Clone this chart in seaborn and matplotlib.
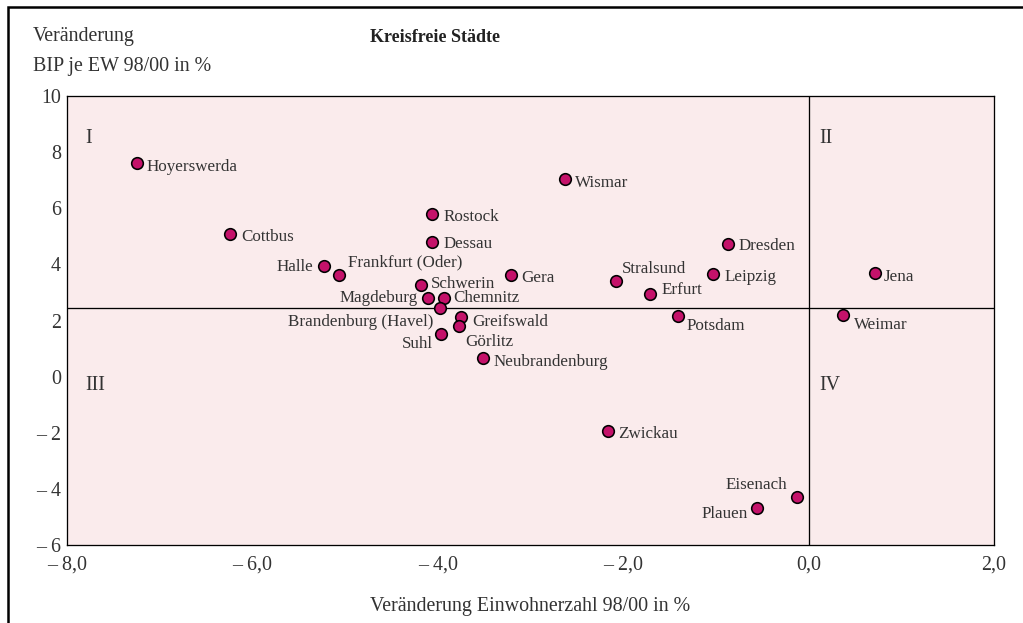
"""
Kreisfreie Städte: change in GDP per inhabitant vs. change in population 98/00.
Quadrant scatter with city labels, drawn with seaborn.
"""
import pandas as pd
import matplotlib
matplotlib.use("Agg")
import matplotlib.pyplot as plt
import seaborn as sns
from matplotlib.patches import Rectangle

# --- data ---
cities = ["Hoyerswerda", "Cottbus", "Halle", "Frankfurt (Oder)", "Rostock", "Dessau",
          "Schwerin", "Magdeburg", "Chemnitz", "Brandenburg (Havel)", "Greifswald",
          "Görlitz", "Suhl", "Neubrandenburg", "Gera", "Wismar", "Stralsund", "Erfurt",
          "Potsdam", "Leipzig", "Dresden", "Jena", "Weimar", "Zwickau", "Eisenach", "Plauen"]
pop_change = [-7.24, -6.24, -5.23, -5.07, -4.06, -4.06,
              -4.18, -4.11, -3.93, -3.98, -3.75,
              -3.77, -3.97, -3.51, -3.21, -2.63, -2.08, -1.71,
              -1.41, -1.03, -0.87, 0.72, 0.37, -2.16, -0.13, -0.56]
gdp_change = [7.60, 5.10, 3.93, 3.63, 5.81, 4.80,
              3.27, 2.80, 2.80, 2.44, 2.12,
              1.79, 1.52, 0.65, 3.63, 7.04, 3.40, 2.93,
              2.15, 3.67, 4.71, 3.69, 2.21, -1.93, -4.29, -4.69]

x_ticks = [-8, -6, -4, -2, 0, 2]
x_tick_labels = ["– 8,0", "– 6,0", "– 4,0", "– 2,0", "0,0", "2,0"]
y_ticks = [-6, -4, -2, 0, 2, 4, 6, 8, 10]
y_tick_labels = ["– 6", "– 4", "– 2", "0", "2", "4", "6", "8", "10"]

# reference lines (mean GDP change, zero population change)
gdp_ref = 2.45
pop_ref = 0.0

# label placement: (dx, dy) in points, horizontal alignment
label_pos = {
    "Hoyerswerda": (9, -4, "left"), "Cottbus": (11, -3, "left"),
    "Halle": (-10, -1, "right"), "Frankfurt (Oder)": (9, 12, "left"),
    "Rostock": (11, -3, "left"), "Dessau": (11, -2, "left"),
    "Schwerin": (10, 1, "left"), "Magdeburg": (-10, 0, "right"),
    "Chemnitz": (9, 0, "left"), "Brandenburg (Havel)": (-6, -14, "right"),
    "Greifswald": (11, -5, "left"), "Görlitz": (6, -16, "left"),
    "Suhl": (-8, -10, "right"), "Neubrandenburg": (10, -4, "left"),
    "Gera": (10, -3, "left"), "Wismar": (10, -4, "left"),
    "Stralsund": (6, 12, "left"), "Erfurt": (11, 4, "left"),
    "Potsdam": (9, -10, "left"), "Leipzig": (11, -3, "left"),
    "Dresden": (11, -2, "left"), "Jena": (8, -4, "left"),
    "Weimar": (11, -10, "left"), "Zwickau": (10, -3, "left"),
    "Eisenach": (-9, 12, "right"), "Plauen": (-9, -6, "right"),
}

df = pd.DataFrame({"city": cities, "pop": pop_change, "gdp": gdp_change})

sns.set_style("white")
plt.rcParams["font.family"] = ["Liberation Serif", "DejaVu Serif"]
text_col = "#333333"

fig = plt.figure(figsize=(1023 / 72, 623 / 72), dpi=72)
ax = fig.add_axes([67 / 1023, 1 - 545 / 623, 927 / 1023, 449 / 623])
ax.set_facecolor("#FAEBEC")

sns.scatterplot(data=df, x="pop", y="gdp", ax=ax, s=135, color="#C4126A",
                edgecolor="black", linewidth=1.6, zorder=3)

ax.axhline(gdp_ref, color="black", lw=1.3, zorder=2)
ax.axvline(pop_ref, color="black", lw=1.3, zorder=2)

for _, row in df.iterrows():
    dx, dy, ha = label_pos[row["city"]]
    ax.annotate(row["city"], (row["pop"], row["gdp"]), xytext=(dx, dy),
                textcoords="offset points", ha=ha, va="center",
                fontsize=17, color=text_col, zorder=4)

# quadrant numbers
for txt, x, y in [("I", -7.8, 8.5), ("II", 0.12, 8.5), ("III", -7.8, -0.3), ("IV", 0.12, -0.3)]:
    ax.text(x, y, txt, fontsize=20, color=text_col, va="center")

ax.set_xlim(-8, 2)
ax.set_ylim(-6, 10)
ax.set_xticks(x_ticks)
ax.set_xticklabels(x_tick_labels)
ax.set_yticks(y_ticks)
ax.set_yticklabels(y_tick_labels)
ax.tick_params(length=0, labelsize=20, colors=text_col, pad=6)
ax.tick_params(axis="x", pad=11)
for sp in ax.spines.values():
    sp.set_color("black")
    sp.set_linewidth(1.3)

ax.set_xlabel("Veränderung Einwohnerzahl 98/00 in %", fontsize=20, color=text_col, labelpad=22)
ax.set_ylabel("")

fig.text(33 / 1023, 1 - 36 / 623, "Veränderung", fontsize=20, color=text_col, va="center")
fig.text(33 / 1023, 1 - 66 / 623, "BIP je EW 98/00 in %", fontsize=20, color=text_col, va="center")
fig.text(435 / 1023, 1 - 38 / 623, "Kreisfreie Städte", fontsize=18, fontweight="bold",
         color="#222222", ha="center", va="center")

# outer frame (left and top edges visible)
fig.patches.append(Rectangle((8 / 1023, -0.05), 1.1, 1 - 7 / 623 + 0.05,
                             transform=fig.transFigure, fill=False,
                             edgecolor="black", lw=2.5))

fig.savefig("out.png", dpi=72)
